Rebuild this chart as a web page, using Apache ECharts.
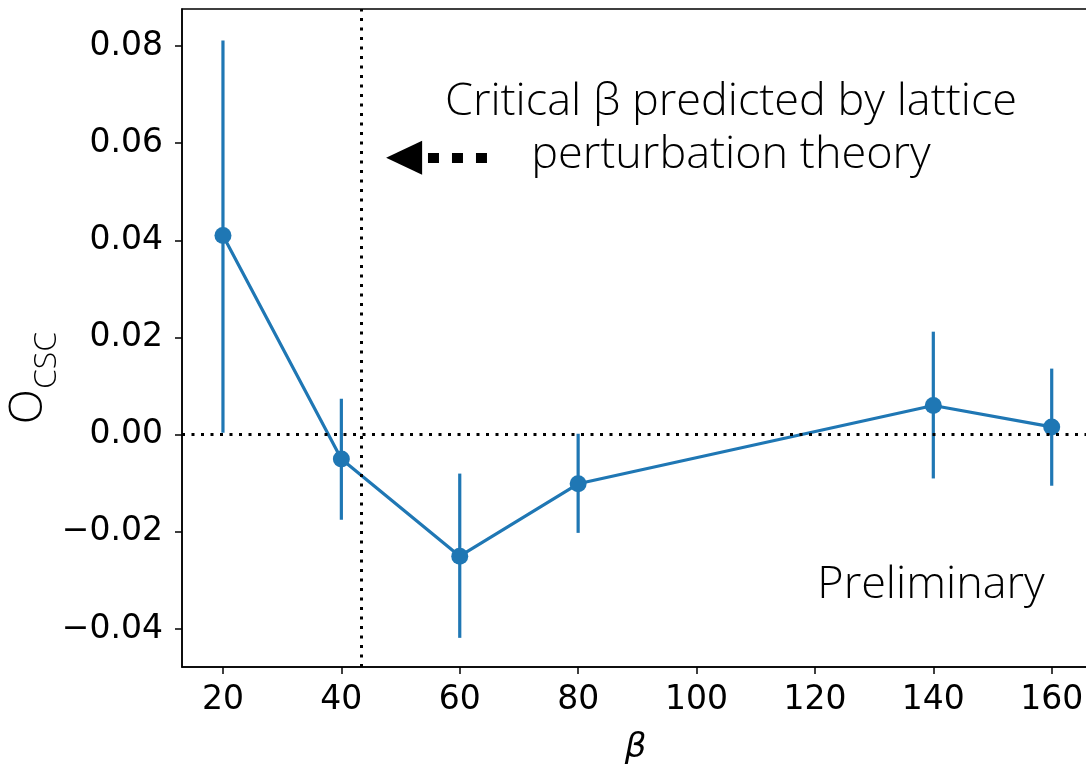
<!DOCTYPE html>
<html>
<head>
<meta charset="utf-8">
<script src="https://cdn.jsdelivr.net/npm/echarts@6/dist/echarts.min.js"></script>
<style>
html,body{margin:0;padding:0;background:#fff;}
#chart{width:1086px;height:766px;}
</style>
</head>
<body>
<div id="chart"></div>
<script>
// ---- data ----
const betaValues = [20, 40, 60, 80, 140, 160];
const ocscValues = [0.041, -0.005, -0.025, -0.0101, 0.006, 0.0016];
const errLow = [0.0004, -0.0175, -0.0418, -0.0202, -0.009, -0.0105];
const errHigh = [0.0811, 0.0074, -0.008, 0.0002, 0.0212, 0.0136];
const xTicks = [20, 40, 60, 80, 100, 120, 140, 160];
const yTicks = [-0.04, -0.02, 0, 0.02, 0.04, 0.06, 0.08];
const criticalBeta = 43.3;
const arrowStart = [64.6, 0.057];
const arrowEnd = [50.6, 0.057];
const annotationLines = ['Critical β predicted by lattice', 'perturbation theory'];
const watermark = 'Preliminary';

const blue = '#1f77b4';
const tickFont = 'DejaVu Sans';
const lightFont = '"Open Sans", "Noto Sans", sans-serif';

const chart = echarts.init(document.getElementById('chart'));
const fmt = v => {
  if (Math.abs(v) < 1e-9) return '0.00';
  return (v < 0 ? '\u2212' : '') + Math.abs(v).toFixed(2);
};

const option = {
  animation: false,
  backgroundColor: '#fff',
  grid: {
    left: 182, top: 9, right: -3, bottom: 99,
    outerBoundsMode: 'none', containLabel: false,
    show: true, borderColor: '#000', borderWidth: 1.5, backgroundColor: 'transparent'
  },
  xAxis: {
    type: 'value', min: 13.08, max: 166.3,
    name: 'β', nameLocation: 'middle', nameGap: 64, nameMoveOverlap: false,
    nameTextStyle: { fontFamily: tickFont, fontStyle: 'italic', fontSize: 34, color: '#000' },
    axisLine: { show: true, onZero: false, lineStyle: { color: '#000', width: 1.5 } },
    axisTick: { show: true, length: 7, lineStyle: { color: '#000', width: 1.5 }, customValues: xTicks },
    axisLabel: { fontFamily: tickFont, fontSize: 33, color: '#000', margin: 17, customValues: xTicks, formatter: v => String(v) },
    splitLine: { show: false }
  },
  yAxis: {
    type: 'value', min: -0.0478, max: 0.0876,
    name: '{o|O}{s|CSC}', nameLocation: 'middle', nameGap: 119, nameMoveOverlap: false,
    nameTextStyle: {
      padding: [0, 80, 0, 0],
      rich: {
        o: { fontFamily: lightFont, fontWeight: 300, fontSize: 46, color: '#000' },
        s: { fontFamily: lightFont, fontWeight: 300, fontSize: 32, color: '#000', padding: [36, 0, 0, 0] }
      }
    },
    axisLine: { show: true, onZero: false, lineStyle: { color: '#000', width: 1.5 } },
    axisTick: { show: true, length: 7, lineStyle: { color: '#000', width: 1.5 }, customValues: yTicks },
    axisLabel: { fontFamily: tickFont, fontSize: 33, color: '#000', margin: 19, customValues: yTicks, formatter: fmt },
    splitLine: { show: false }
  },
  series: [
    {
      type: 'line', data: [], silent: true, z: 1,
      markLine: {
        silent: true, symbol: ['none', 'none'], label: { show: false },
        lineStyle: { color: '#000', type: [3, 6.5], width: 3 },
        data: [{ xAxis: criticalBeta }, { yAxis: 0 }]
      }
    },
    {
      type: 'line', data: [], silent: true, z: 1,
      markLine: {
        silent: true, symbol: ['none', 'triangle'], symbolSize: [34, 36], label: { show: false },
        lineStyle: { color: '#000', type: [11, 13], width: 10, cap: 'butt' },
        itemStyle: { color: '#000' },
        data: [[{ coord: arrowStart }, { coord: arrowEnd }]]
      }
    },
    {
      type: 'custom', z: 2,
      data: betaValues.map((b, i) => [b, errLow[i], errHigh[i]]),
      renderItem: (params, api) => {
        const p1 = api.coord([api.value(0), api.value(1)]);
        const p2 = api.coord([api.value(0), api.value(2)]);
        return { type: 'line', shape: { x1: p1[0], y1: p1[1], x2: p2[0], y2: p2[1] },
                 style: { stroke: blue, lineWidth: 3.2 } };
      }
    },
    {
      type: 'line', z: 3,
      data: betaValues.map((b, i) => [b, ocscValues[i]]),
      symbol: 'circle', symbolSize: 17, showAllSymbol: true,
      lineStyle: { color: blue, width: 3.2 },
      itemStyle: { color: blue, borderWidth: 0 }
    }
  ],
  graphic: [
    { type: 'text', x: 731, y: 102, style: { text: annotationLines[0], font: '300 45px ' + lightFont, fill: '#000', align: 'center', verticalAlign: 'middle' } },
    { type: 'text', x: 731, y: 155, style: { text: annotationLines[1], font: '300 45px ' + lightFont, fill: '#000', align: 'center', verticalAlign: 'middle' } },
    { type: 'text', x: 931, y: 585, style: { text: watermark, font: '300 45px ' + lightFont, fill: '#000', align: 'center', verticalAlign: 'middle' } }
  ]
};
chart.setOption(option);
</script>
</body>
</html>
